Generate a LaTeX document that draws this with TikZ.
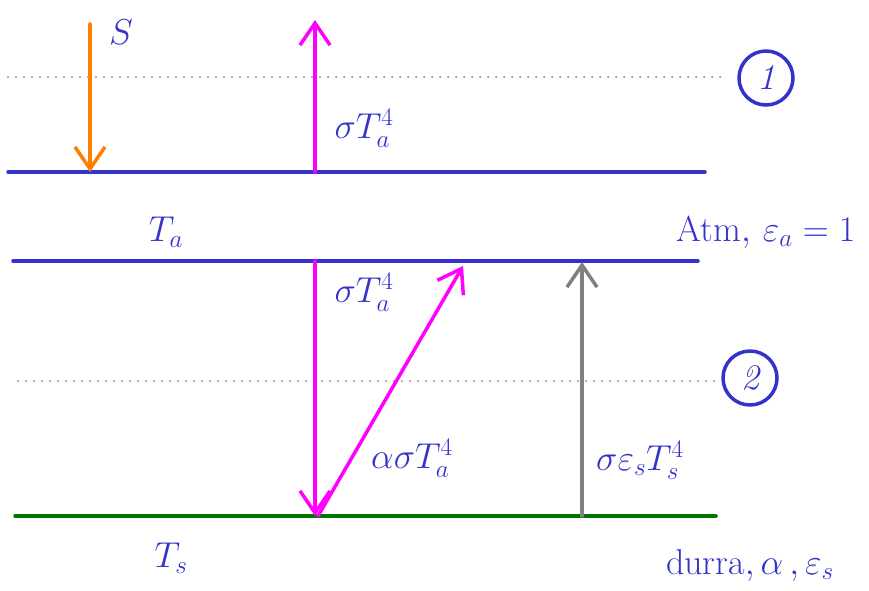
\documentclass[tikz,border=0pt]{standalone}
\usepackage{fix-cm}
\usetikzlibrary{arrows.meta}
\definecolor{hblue}{RGB}{51,51,204}
\definecolor{hmag}{RGB}{255,0,255}
\definecolor{horange}{RGB}{255,128,0}
\definecolor{hgreen}{RGB}{0,120,0}
\definecolor{hgrey}{RGB}{128,128,128}
\begin{document}
\begin{tikzpicture}[x=1pt,y=-1pt,
  layer/.style={line width=3.5pt,line cap=round},
  guide/.style={hgrey,line width=2pt,line cap=round,dash pattern=on 0pt off 8pt},
  flux/.style={line width=3.5pt,line cap=round,-{Straight Barb[length=22pt,width=30pt,line width=3.5pt]}},
  lbl/.style={text=hblue,font=\fontsize{36}{42}\selectfont,inner sep=0pt},
  badge/.style={draw=hblue,line width=3.5pt,circle,minimum size=54pt,inner sep=0pt,text=hblue,font=\fontsize{36}{40}\selectfont\itshape}]
\useasboundingbox (0,0) rectangle (869,590);
% layers
\coordinate (t1) at (8,172); \coordinate (t2) at (705,172);
\coordinate (m1) at (13,261); \coordinate (m2) at (698,261);
\coordinate (g1) at (15,516); \coordinate (g2) at (716,516);
\coordinate (d1a) at (8,77); \coordinate (d1b) at (720,77);
\coordinate (d2a) at (18,381); \coordinate (d2b) at (715,381);
\draw[guide] (d1a) -- (d1b);
\draw[guide] (d2a) -- (d2b);
\draw[layer,hblue] (t1) -- (t2);
\draw[layer,hblue] (m1) -- (m2);
\draw[layer,hgreen] (g1) -- (g2);
% badges
\node[badge] (b1) at (766,78) {1};
\node[badge] (b2) at (750,378) {2};
% arrows
\coordinate (s0) at (90,24); \coordinate (s1) at (90,172);
\draw[flux,horange] (s0) -- (s1);
\coordinate (u0) at (315,172); \coordinate (u1) at (315,20);
\draw[flux,hmag] (u0) -- (u1);
\coordinate (v0) at (315,261); \coordinate (v1) at (315,516);
\draw[flux,hmag] (v0) -- (v1);
\coordinate (w0) at (318,516); \coordinate (w1) at (463,266);
\draw[flux,hmag] (w0) -- (w1);
\coordinate (e0) at (582,516); \coordinate (e1) at (582,262);
\draw[flux,hgrey] (e0) -- (e1);
% labels
\node[lbl] (S) at (121,32) {$S$};
\node[lbl] (l1) at (364,128) {$\sigma T_a^4$};
\node[lbl] (Ta) at (166,232) {$T_a$};
\node[lbl] (atm) at (766,232) {Atm$,\,\varepsilon_a = 1$};
\node[lbl] (l2) at (364,292) {$\sigma T_a^4$};
\node[lbl] (l3) at (412,458) {$\alpha\sigma T_a^4$};
\node[lbl] (l4) at (640,460) {$\sigma\varepsilon_s T_s^4$};
\node[lbl] (Ts) at (171,558) {$T_s$};
\node[lbl] (dur) at (750,565) {durra$,\alpha\,,\varepsilon_s$};
\end{tikzpicture}
\end{document}
